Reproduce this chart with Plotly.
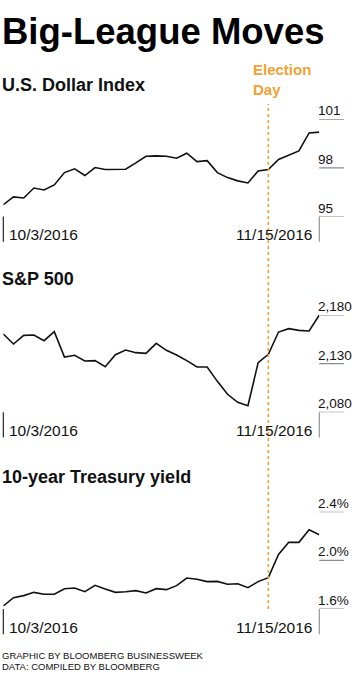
import plotly.graph_objects as go

# ---------------- data ----------------
dates = [
    "2016-10-03", "2016-10-04", "2016-10-05", "2016-10-06", "2016-10-07",
    "2016-10-10", "2016-10-11", "2016-10-12", "2016-10-13", "2016-10-14",
    "2016-10-17", "2016-10-18", "2016-10-19", "2016-10-20", "2016-10-21",
    "2016-10-24", "2016-10-25", "2016-10-26", "2016-10-27", "2016-10-28",
    "2016-10-31", "2016-11-01", "2016-11-02", "2016-11-03", "2016-11-04",
    "2016-11-07", "2016-11-08", "2016-11-09", "2016-11-10", "2016-11-11",
    "2016-11-14", "2016-11-15",
]
dollar_index = [
    95.73, 96.21, 96.14, 96.76, 96.64, 96.95, 97.71, 97.94, 97.53, 98.02,
    97.90, 97.90, 97.92, 98.31, 98.72, 98.74, 98.72, 98.60, 98.91, 98.39,
    98.45, 97.71, 97.40, 97.20, 97.07, 97.81, 97.90, 98.52, 98.78, 99.05,
    100.16, 100.21,
]
sp500 = [
    2160.5, 2150.2, 2159.1, 2159.5, 2153.6, 2162.9, 2136.8, 2138.6, 2132.7, 2133.1,
    2126.9, 2139.2, 2144.0, 2141.3, 2140.6, 2150.9, 2143.7, 2138.9, 2133.1, 2126.6,
    2126.6, 2111.8, 2098.5, 2090.3, 2086.8, 2131.0, 2139.6, 2162.5, 2166.0, 2164.2,
    2163.6, 2180.0,
]
treasury_yield = [
    1.625, 1.693, 1.710, 1.737, 1.721, 1.721, 1.767, 1.773, 1.742, 1.795,
    1.764, 1.737, 1.742, 1.751, 1.732, 1.767, 1.759, 1.792, 1.855, 1.844,
    1.825, 1.827, 1.803, 1.808, 1.775, 1.825, 1.858, 2.049, 2.148, 2.148,
    2.252, 2.211,
]
election_day = "2016-11-08"

titles = ["U.S. Dollar Index", "S&P 500", "10-year Treasury yield"]
tick_values = [[95, 98, 101], [2080, 2130, 2180], [1.6, 2.0, 2.4]]
tick_labels = [["95", "98", "101"], ["2,080", "2,130", "2,180"], ["1.6%", "2.0%", "2.4%"]]
x_labels = ["10/3/2016", "11/15/2016"]
footer_lines = ["GRAPHIC BY BLOOMBERG BUSINESSWEEK", "DATA: COMPILED BY BLOOMBERG"]
series = [dollar_index, sp500, treasury_yield]

# ---------------- style ----------------
W, H = 360, 676
FONT = "Liberation Sans, Arial, sans-serif"
ORANGE = "#F0A233"
INK = "#111111"
GRAY = "#8c8c8c"

# pixel layout (from top)
x_left_px, x_right_px = 3.3, 319.3
panels_px = [(119.3, 216.5), (315.0, 412.3), (511.7, 609.0)]  # (top tick, bottom tick)
title_px = [97, 291, 489]


def py(p):
    return 1 - p / H


fig = go.Figure()
xdom = [x_left_px / W, x_right_px / W]

for i, (vals, (top, bot)) in enumerate(zip(series, panels_px)):
    n = "" if i == 0 else str(i + 1)
    xa, ya = "x" + n, "y" + n
    fig.add_trace(go.Scatter(
        x=dates, y=vals, mode="lines", xaxis=xa, yaxis=ya,
        line=dict(color=INK, width=1.6), hoverinfo="skip", showlegend=False,
    ))
    tv = tick_values[i]
    fig.layout["xaxis" + n] = dict(
        domain=xdom, type="category", range=[0, len(dates) - 1],
        visible=False, anchor=ya, fixedrange=True,
    )
    fig.layout["yaxis" + n] = dict(
        domain=[py(bot), py(top)], range=[tv[0], tv[-1]],
        visible=False, anchor=xa, fixedrange=True,
    )
    # right-hand tick lines and labels
    for v, lab in zip(tv, tick_labels[i]):
        fig.add_shape(type="line", xref=xa + " domain", yref=ya,
                      x0=1.0, x1=1.078, y0=v, y1=v,
                      line=dict(color=GRAY, width=1.2))
        fig.add_annotation(text=lab, xref="paper", yref=ya, x=315.5 / W, y=v,
                           xanchor="left", yanchor="bottom", yshift=-1,
                           showarrow=False, font=dict(family=FONT, size=13.5, color=INK))
    # vertical bracket ticks at the bottom
    for xd in (0.0, 1.0):
        fig.add_shape(type="line", xref=xa + " domain", yref=ya + " domain",
                      x0=xd, x1=xd, y0=0, y1=-0.26,
                      line=dict(color=INK if xd == 0 else GRAY, width=1.1))
    # date labels
    fig.add_annotation(text=x_labels[0], xref=xa, yref="paper", x=dates[0],
                       y=py(bot + 28.5), xanchor="left", yanchor="bottom", xshift=4,
                       showarrow=False, font=dict(family=FONT, size=15.5, color=INK))
    fig.add_annotation(text=x_labels[1], xref=xa, yref="paper", x=dates[-1],
                       y=py(bot + 28.5), xanchor="right", yanchor="bottom", xshift=-5,
                       showarrow=False, font=dict(family=FONT, size=15.5, color=INK))
    # panel title
    fig.add_annotation(text="<b>" + titles[i] + "</b>", xref="paper", yref="paper",
                       x=0, y=py(title_px[i]), xanchor="left", yanchor="bottom",
                       xshift=0, showarrow=False,
                       font=dict(family=FONT, size=18, color=INK))

# election day dotted line
fig.add_shape(type="line", xref="x", yref="paper", x0=election_day, x1=election_day,
              y0=py(609), y1=py(104), line=dict(color=ORANGE, width=1.6, dash="dot"))
fig.add_annotation(text="<b>Election<br>Day</b>", xref="paper", yref="paper",
                   x=251 / W, y=py(59), xanchor="left", yanchor="top", align="left",
                   showarrow=False, font=dict(family=FONT, size=15, color=ORANGE))

# main title
fig.add_annotation(text="<b>Big-League Moves</b>", xref="paper", yref="paper",
                   x=0, y=py(8.5), xanchor="left", yanchor="top", xshift=0,
                   showarrow=False, font=dict(family=FONT, size=36.5, color="#000000"))

# footer
for k, line_text in enumerate(footer_lines):
    fig.add_annotation(text=line_text, xref="paper", yref="paper", x=0,
                       y=py(648 + 11 * k), xanchor="left", yanchor="top", align="left",
                       showarrow=False, font=dict(family=FONT, size=9.5, color=INK))

fig.update_layout(
    width=W, height=H, margin=dict(l=0, r=0, t=0, b=0),
    paper_bgcolor="white", plot_bgcolor="white", showlegend=False,
)
fig.write_html(
    "out.html",
    config={"displayModeBar": False},
    post_script="document.body.style.margin='0';document.body.style.overflow='hidden';",
)
